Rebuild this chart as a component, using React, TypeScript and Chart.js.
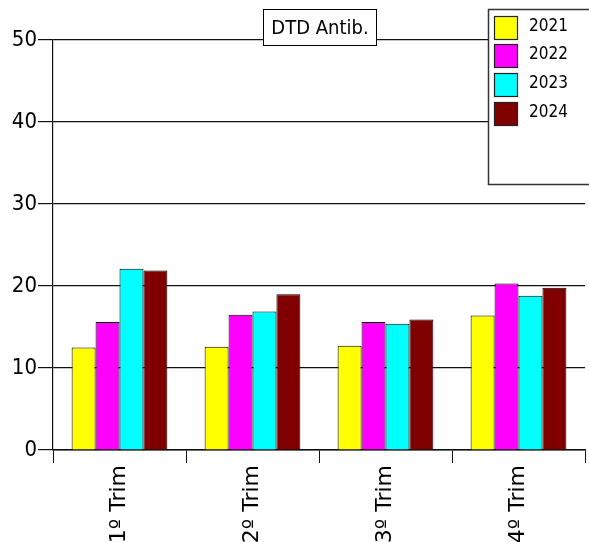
import React, { useEffect, useRef } from "react";
import { Chart, registerables } from "chart.js";

Chart.register(...registerables);

const categories = ["1º Trim", "2º Trim", "3º Trim", "4º Trim"];
const seriesLabels = ["2021", "2022", "2023", "2024"];
const values2021 = [12.5, 12.6, 12.7, 16.4];
const values2022 = [15.6, 16.5, 15.6, 20.3];
const values2023 = [22.1, 16.9, 15.4, 18.8];
const values2024 = [21.9, 19.0, 15.9, 19.8];
const seriesColors = ["#ffff00", "#ff00ff", "#00ffff", "#800000"];
const yTicks = [0, 10, 20, 30, 40, 50];
const titleText = "DTD Antib.";

const FONT = '"DejaVu Sans Condensed", "DejaVu Sans", sans-serif';
const WIDE_FONT = '"DejaVu Sans", sans-serif';

const boxesPlugin = {
  id: "boxes",
  afterDraw(chart: any) {
    const ctx = chart.ctx;
    const area = chart.chartArea;
    ctx.save();
    // title box
    ctx.font = `20px ${FONT}`;
    const tw = ctx.measureText(titleText).width;
    const bw = Math.round(tw + 16);
    const cx = (area.left + area.right) / 2;
    const bx = Math.round(cx - bw / 2) + 0.5;
    const by = area.top - 31 + 0.5;
    const bh = 36;
    ctx.fillStyle = "#fff";
    ctx.fillRect(bx, by, bw, bh);
    ctx.strokeStyle = "#000";
    ctx.lineWidth = 1;
    ctx.strokeRect(bx, by, bw, bh);
    ctx.fillStyle = "#000";
    ctx.textAlign = "center";
    ctx.textBaseline = "middle";
    ctx.fillText(titleText, bx + bw / 2, by + bh / 2 + 1);

    // legend box
    const lx = 488.5;
    const ly = area.top - 31 + 0.5;
    const lw = 120;
    const lh = 175;
    ctx.fillStyle = "#fff";
    ctx.fillRect(lx, ly, lw, lh);
    ctx.strokeStyle = "#333";
    ctx.lineWidth = 1.5;
    ctx.strokeRect(lx, ly, lw, lh);
    ctx.font = `17px ${FONT}`;
    ctx.textAlign = "left";
    ctx.textBaseline = "middle";
    chart.data.datasets.forEach((ds: any, i: number) => {
      const sx = 494.5;
      const sy = ly + 6 + i * 28.7;
      ctx.fillStyle = ds.backgroundColor;
      ctx.fillRect(sx, Math.round(sy) + 0.5, 23, 23);
      ctx.strokeStyle = "#222";
      ctx.lineWidth = 1.2;
      ctx.strokeRect(sx, Math.round(sy) + 0.5, 23, 23);
      ctx.fillStyle = "#000";
      ctx.fillText(ds.label, 529, Math.round(sy) + 11);
    });
    ctx.restore();
  },
};

export default function App() {
  const ref = useRef<HTMLCanvasElement>(null);
  useEffect(() => {
    document.body.style.margin = "0";
    const seriesValues = [values2021, values2022, values2023, values2024];
    const chart = new Chart(ref.current as HTMLCanvasElement, {
      type: "bar",
      data: {
        labels: categories,
        datasets: seriesLabels.map((label, i) => ({
          label,
          data: seriesValues[i],
          backgroundColor: seriesColors[i],
          borderColor: "#000",
          borderWidth: 1,
          categoryPercentage: 0.72,
          barPercentage: 1,
        })),
      },
      options: {
        responsive: false,
        animation: false,
        devicePixelRatio: 1,
        layout: { padding: { top: 40, right: 4, left: 0, bottom: 0 } },
        plugins: { legend: { display: false }, title: { display: false }, tooltip: { enabled: false } },
        scales: {
          x: {
            type: "category",
            offset: true,
            grid: { offset: true, drawOnChartArea: false, drawTicks: true, tickLength: 13, color: "#111", lineWidth: 1 },
            border: { color: "#111", width: 1.5 },
            ticks: {
              font: { size: 22, family: WIDE_FONT },
              color: "#000",
              minRotation: 90,
              maxRotation: 90,
              padding: 2,
              autoSkip: false,
            },
            afterFit: (s: any) => {
              s.height = 92;
            },
          },
          y: {
            min: 0,
            max: 50,
            afterBuildTicks: (s: any) => {
              s.ticks = yTicks.map((v) => ({ value: v }));
            },
            grid: { color: "#111", lineWidth: 1.2, tickLength: 15, drawTicks: true },
            border: { color: "#111", width: 1.2 },
            ticks: { font: { size: 22, family: FONT }, color: "#000", padding: 1 },
            afterFit: (s: any) => {
              s.width = 53;
            },
          },
        },
      },
      plugins: [boxesPlugin],
    });
    return () => chart.destroy();
  }, []);
  return <canvas ref={ref} width={589} height={542} style={{ display: "block", width: 589, height: 542 }} />;
}
